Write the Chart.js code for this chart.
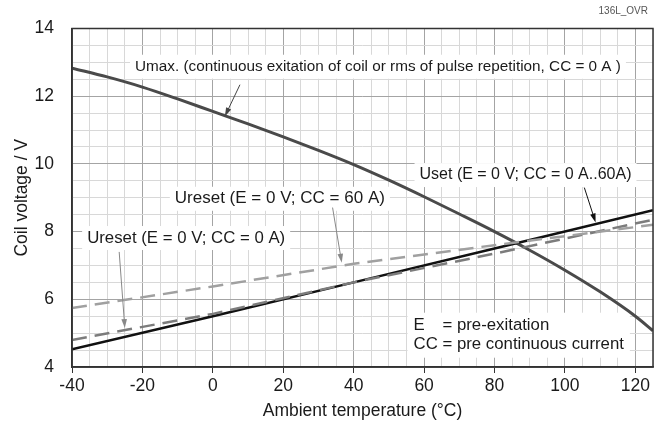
<!DOCTYPE html>
<html>
<head>
<meta charset="utf-8">
<script src="https://cdn.jsdelivr.net/npm/chart.js@4.4.0/dist/chart.umd.min.js"></script>
<style>
  html, body { margin: 0; padding: 0; background: #fff; }
</style>
</head>
<body>
<canvas id="coilChart" width="662" height="435"></canvas>
<script>
// values
const umaxTemps = [-40, -30, -20, -10, 0, 10, 20, 30, 40, 50, 60, 70, 80, 90, 100, 110, 120, 125]
const umaxVolts = [12.83, 12.57, 12.27, 11.92, 11.55, 11.18, 10.8, 10.4, 9.98, 9.52, 9.03, 8.52, 8.0, 7.45, 6.86, 6.22, 5.5, 5.07]
const lineTemps = [-40, 0, 40, 80, 125]
const usetVolts = [4.52, 5.5, 6.5, 7.5, 8.63]
const ureset0Volts = [4.8, 5.57, 6.5, 7.35, 8.35]
const ureset60Volts = [5.74, 6.38, 7.05, 7.6, 8.2]
const xTickLabels = [-40, -20, 0, 20, 40, 60, 80, 100, 120]
const yTickLabels = [4, 6, 8, 10, 12, 14]

const FONT = 'Liberation Sans, Arial, Helvetica, sans-serif'

const toPoints = (xs, ys) => xs.map((x, i) => ({ x, y: ys[i] }))

// callouts placed in data units, converted through the scales
const callouts = [
  { text: 'Umax. (continuous exitation of coil or rms of pulse repetition, CC = 0 A )', x: -22.1, y: 12.87, size: 15.3,
    from: [7.7, 12.34], to: [3.4, 11.4], arrow: '#444' },
  { text: 'Uset (E = 0 V; CC = 0 A..60A)', x: 58.7, y: 9.67, size: 16,
    from: [105.5, 9.3], to: [108.7, 8.27], arrow: '#111' },
  { text: 'Ureset (E = 0 V; CC = 60 A)', x: -10.8, y: 8.97, size: 17,
    from: [34.0, 8.71], to: [36.6, 7.08], arrow: '#888' },
  { text: 'Ureset (E = 0 V; CC = 0 A)', x: -35.7, y: 7.81, size: 16.8,
    from: [-26.6, 7.4], to: [-25.0, 5.15], arrow: '#888' },
]
const notes = { x: 57.0, y1: 5.22, y2: 4.67, size: 16.8 }

function drawArrow(ctx, x1, y1, x2, y2, color) {
  const ang = Math.atan2(y2 - y1, x2 - x1)
  ctx.save()
  ctx.strokeStyle = color
  ctx.fillStyle = color
  ctx.lineWidth = 1
  ctx.beginPath()
  ctx.moveTo(x1, y1)
  ctx.lineTo(x2 - 6 * Math.cos(ang), y2 - 6 * Math.sin(ang))
  ctx.stroke()
  ctx.beginPath()
  ctx.moveTo(x2, y2)
  ctx.lineTo(x2 - 9 * Math.cos(ang) + 2.8 * Math.sin(ang), y2 - 9 * Math.sin(ang) - 2.8 * Math.cos(ang))
  ctx.lineTo(x2 - 9 * Math.cos(ang) - 2.8 * Math.sin(ang), y2 - 9 * Math.sin(ang) + 2.8 * Math.cos(ang))
  ctx.closePath()
  ctx.fill()
  ctx.restore()
}

const annotationPlugin = {
  id: 'callouts',
  beforeDatasetsDraw(chart) {
    const { ctx, scales: { x, y } } = chart
    ctx.save()
    ctx.fillStyle = '#fff'
    callouts.forEach(c => {
      ctx.font = `${c.size}px ${FONT}`
      const w = ctx.measureText(c.text).width
      ctx.fillRect(x.getPixelForValue(c.x) - 5, y.getPixelForValue(c.y) - 12, w + 10, 24)
    })
    ctx.font = `${notes.size}px ${FONT}`
    const nw = ctx.measureText('CC = pre continuous current').width
    ctx.fillRect(x.getPixelForValue(notes.x) - 6, y.getPixelForValue(notes.y1) - 13, nw + 12, 45)
    ctx.restore()
  },
  afterDatasetsDraw(chart) {
    const { ctx, chartArea: a, scales: { x, y } } = chart
    ctx.save()
    ctx.fillStyle = '#1a1a1a'
    ctx.textBaseline = 'middle'
    ctx.textAlign = 'left'
    callouts.forEach(c => {
      ctx.font = `${c.size}px ${FONT}`
      ctx.fillText(c.text, x.getPixelForValue(c.x), y.getPixelForValue(c.y))
      drawArrow(ctx, x.getPixelForValue(c.from[0]), y.getPixelForValue(c.from[1]),
        x.getPixelForValue(c.to[0]), y.getPixelForValue(c.to[1]), c.arrow)
    })
    ctx.font = `${notes.size}px ${FONT}`
    const nx = x.getPixelForValue(notes.x)
    const eqX = nx + ctx.measureText('CC ').width
    ctx.fillText('E', nx, y.getPixelForValue(notes.y1))
    ctx.fillText('= pre-exitation', eqX, y.getPixelForValue(notes.y1))
    ctx.fillText('CC = pre continuous current', nx, y.getPixelForValue(notes.y2))

    // frame around plot
    ctx.strokeStyle = '#333'
    ctx.lineWidth = 1.5
    ctx.strokeRect(a.left, a.top, a.right - a.left, a.bottom - a.top)

    ctx.font = `10px ${FONT}`
    ctx.fillStyle = '#555'
    ctx.textAlign = 'right'
    ctx.fillText('136L_OVR', 648, 11)
    ctx.restore()
  }
}

new Chart(document.getElementById('coilChart'), {
  type: 'line',
  data: {
    datasets: [
      { label: 'Ureset CC=60A', data: toPoints(lineTemps, ureset60Volts), borderColor: '#a0a0a0',
        borderWidth: 2.5, borderDash: [15, 8], pointRadius: 0, tension: 0 },
      { label: 'Ureset CC=0A', data: toPoints(lineTemps, ureset0Volts), borderColor: '#7c7c7c',
        borderWidth: 2.5, borderDash: [15, 8], pointRadius: 0, tension: 0 },
      { label: 'Uset', data: toPoints(lineTemps, usetVolts), borderColor: '#111',
        borderWidth: 2.5, pointRadius: 0, tension: 0 },
      { label: 'Umax', data: toPoints(umaxTemps, umaxVolts), borderColor: '#4a4a4a',
        borderWidth: 3, pointRadius: 0, cubicInterpolationMode: 'monotone' },
    ]
  },
  options: {
    responsive: false,
    animation: false,
    devicePixelRatio: 1,
    layout: { padding: { top: 23, right: 9, left: 0, bottom: 0 } },
    plugins: { legend: { display: false }, tooltip: { enabled: false } },
    scales: {
      x: {
        type: 'linear',
        min: -40,
        max: 125,
        afterFit: s => { s.height = 68 },
        ticks: {
          stepSize: 5,
          autoSkip: false,
          maxRotation: 0,
          padding: 3,
          color: '#1a1a1a',
          font: { family: FONT, size: 17.5 },
          callback: v => xTickLabels.includes(v) ? String(v) : ''
        },
        grid: {
          color: c => xTickLabels.includes(c.tick.value) ? '#a4a4a4' : '#d8d8d8',
          tickColor: c => xTickLabels.includes(c.tick.value) ? '#333' : 'rgba(0,0,0,0)',
          tickLength: 6,
          lineWidth: 1
        },
        border: { display: true, color: '#333', width: 1.5 },
        title: {
          display: true,
          text: 'Ambient temperature (°C)',
          color: '#1a1a1a',
          font: { family: FONT, size: 17.5 },
          padding: { top: 0, bottom: 13 }
        }
      },
      y: {
        min: 4,
        max: 14,
        afterFit: s => { s.width = 72 },
        ticks: {
          stepSize: 0.5,
          autoSkip: false,
          padding: 18,
          color: '#1a1a1a',
          font: { family: FONT, size: 17.5 },
          callback: v => yTickLabels.includes(v) ? String(v) : ''
        },
        grid: {
          color: c => yTickLabels.includes(c.tick.value) ? '#a4a4a4' : '#d8d8d8',
          drawTicks: false,
          lineWidth: 1
        },
        border: { display: true, color: '#333', width: 1.5 },
        title: {
          display: true,
          text: 'Coil voltage / V',
          color: '#1a1a1a',
          font: { family: FONT, size: 17.5 },
          padding: { top: 12, bottom: 0 }
        }
      }
    }
  },
  plugins: [annotationPlugin]
})
</script>
</body>
</html>
